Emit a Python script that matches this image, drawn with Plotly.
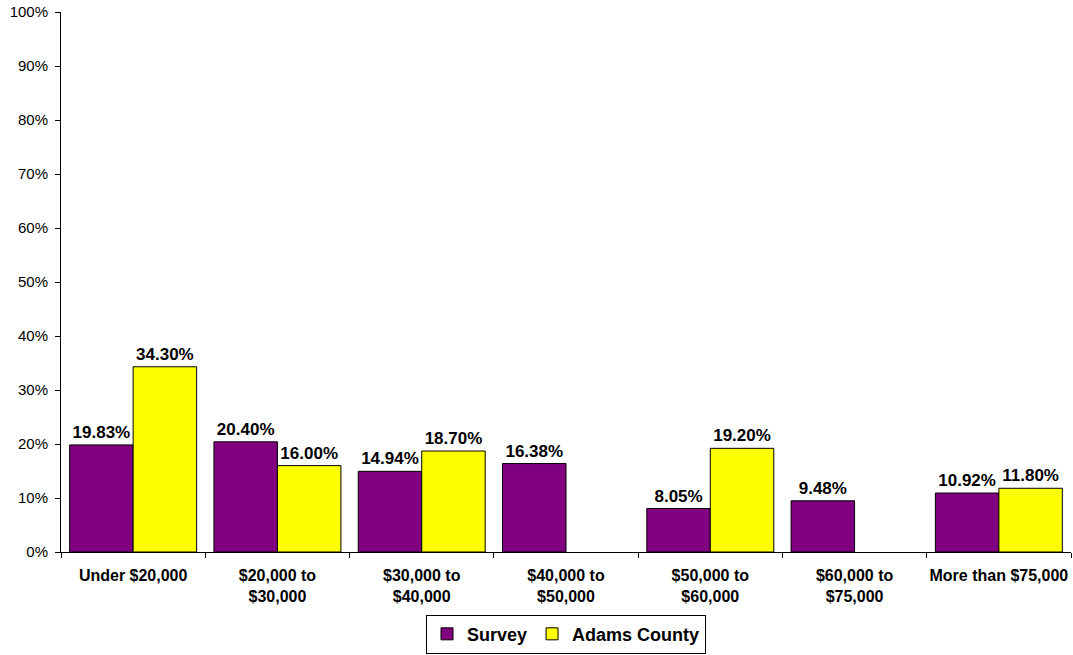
import plotly.graph_objects as go

categories = ["Under $20,000", "$20,000 to<br>$30,000", "$30,000 to<br>$40,000",
              "$40,000 to<br>$50,000", "$50,000 to<br>$60,000", "$60,000 to<br>$75,000",
              "More than $75,000"]
survey = [19.83, 20.40, 14.94, 16.38, 8.05, 9.48, 10.92]
adams = [34.30, 16.00, 18.70, None, 19.20, None, 11.80]
y_ticks = list(range(0, 101, 10))

FONT = "Liberation Sans, Arial, sans-serif"

fig = go.Figure()
fig.add_trace(go.Bar(
    name="Survey", x=categories, y=survey,
    marker=dict(color="#800080", line=dict(color="black", width=1)),
    texttemplate="%{y:.2f}%", textposition="outside", constraintext="none",
    cliponaxis=False,
    textfont=dict(family=FONT, size=17, color="black", weight="bold"),
))
fig.add_trace(go.Bar(
    name="Adams County", x=categories, y=adams,
    marker=dict(color="#FFFF00", line=dict(color="black", width=1)),
    texttemplate="%{y:.2f}%", textposition="outside", constraintext="none",
    cliponaxis=False,
    textfont=dict(family=FONT, size=17, color="black", weight="bold"),
))

fig.update_layout(
    width=1073, height=655,
    margin=dict(l=61, r=2, t=12, b=103, autoexpand=False),
    paper_bgcolor="white", plot_bgcolor="white",
    barmode="group", bargap=0.12, bargroupgap=0,
    font=dict(family=FONT, size=15, color="black"),
    showlegend=True,
    legend=dict(orientation="h", x=0.5, xanchor="center", y=-0.116, yanchor="top",
                bordercolor="black", borderwidth=1,
                font=dict(family=FONT, size=18, color="black", weight="bold"),
                itemwidth=30, tracegroupgap=0),
)
fig.update_xaxes(
    showline=True, linecolor="black", linewidth=1,
    ticks="outside", tickson="boundaries", ticklen=5, tickcolor="black",
    tickfont=dict(family=FONT, size=16, color="black", weight="bold"),
    tickangle=0, automargin=False, ticklabelstandoff=9,
    showgrid=False,
)
fig.update_yaxes(
    range=[0, 100], tickvals=y_ticks, ticktext=[f"{v}%" for v in y_ticks],
    showline=True, linecolor="black", linewidth=1,
    ticks="outside", ticklen=5, tickcolor="black",
    tickfont=dict(family=FONT, size=15, color="black"),
    ticklabelstandoff=4,
    showgrid=False, zeroline=False, automargin=False,
)

fig.write_html("out.html", config={"displayModeBar": False},
               post_script="document.body.style.margin='0';")
